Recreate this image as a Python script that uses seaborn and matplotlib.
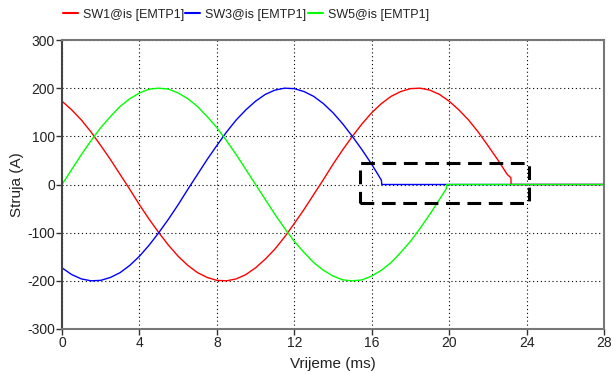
import matplotlib
matplotlib.use("Agg")
import matplotlib.pyplot as plt
from matplotlib.patches import Rectangle
from matplotlib.lines import Line2D
import seaborn as sns
import pandas as pd

# ---- data ----
t_sw1 = [0, 0.5, 1, 1.5, 2, 2.5, 3, 3.5, 4, 4.5, 5, 5.5, 6, 6.5, 7, 7.5, 8, 8.5, 9, 9.5,
         10, 10.5, 11, 11.5, 12, 12.5, 13, 13.5, 14, 14.5, 15, 15.5, 16, 16.5, 17, 17.5,
         18, 18.5, 19, 19.5, 20, 20.5, 21, 21.5, 22, 22.5, 23, 23.19, 23.2, 28]
i_sw1 = [173, 155, 134, 109, 81, 52, 21, -10, -42, -72, -100, -126, -149, -168, -183, -193,
         -199, -200, -196, -187, -173, -155, -134, -109, -81, -52, -21, 10, 42, 72, 100, 126,
         149, 168, 183, 193, 199, 200, 196, 187, 173, 155, 134, 109, 81, 52, 21, 14, 0, 0]

t_sw3 = [0, 0.5, 1, 1.5, 2, 2.5, 3, 3.5, 4, 4.5, 5, 5.5, 6, 6.5, 7, 7.5, 8, 8.5, 9, 9.5,
         10, 10.5, 11, 11.5, 12, 12.5, 13, 13.5, 14, 14.5, 15, 15.5, 16, 16.5, 16.52, 28]
i_sw3 = [-173, -187, -196, -200, -199, -193, -183, -168, -149, -126, -100, -72, -42, -10,
         21, 52, 81, 109, 134, 155, 173, 187, 196, 200, 199, 193, 183, 168, 149, 126, 100,
         72, 42, 9, 0, 0]

t_sw5 = [0, 0.5, 1, 1.5, 2, 2.5, 3, 3.5, 4, 4.5, 5, 5.5, 6, 6.5, 7, 7.5, 8, 8.5, 9, 9.5,
         10, 10.5, 11, 11.5, 12, 12.5, 13, 13.5, 14, 14.5, 15, 15.5, 16, 16.5, 17, 17.5,
         18, 18.5, 19, 19.5, 19.85, 19.87, 28]
i_sw5 = [0, 31, 62, 91, 118, 141, 162, 178, 190, 198, 200, 198, 190, 178, 162, 141, 118,
         91, 62, 31, 0, -31, -62, -91, -118, -141, -162, -178, -190, -198, -200, -198, -190,
         -178, -162, -141, -118, -91, -62, -31, -9, 0, 0]

series_names = ["SW1@is [EMTP1]", "SW3@is [EMTP1]", "SW5@is [EMTP1]"]
series_colors = ["#ff0000", "#0000ff", "#00ff00"]

x_ticks = [0, 4, 8, 12, 16, 20, 24, 28]
y_ticks = [-300, -200, -100, 0, 100, 200, 300]
x_label = "Vrijeme (ms)"
y_label = "Struja (A)"

# highlighted region (ms, A)
box_t0, box_t1 = 15.4, 24.1
box_i0, box_i1 = -38, 45

# ---- build table ----
frames = []
for name, t, i in zip(series_names, [t_sw1, t_sw3, t_sw5], [i_sw1, i_sw3, i_sw5]):
    frames.append(pd.DataFrame({"t": t, "i": i, "series": name}))
df = pd.concat(frames, ignore_index=True)

sns.set_style("white")
plt.rcParams["font.family"] = ["Liberation Sans", "DejaVu Sans"]

fig = plt.figure(figsize=(6.13, 3.74), dpi=100)
ax = fig.add_axes([62 / 613, 1 - 329 / 374, 542 / 613, 289 / 374])

sns.lineplot(data=df, x="t", y="i", hue="series", hue_order=series_names,
             palette=dict(zip(series_names, series_colors)), estimator=None,
             sort=False, linewidth=1.0, ax=ax, legend=False)

ax.set_xlim(0, 28)
ax.set_ylim(-300, 300)
ax.set_xticks(x_ticks)
ax.set_yticks(y_ticks)
ax.set_xticklabels([str(v) for v in x_ticks], fontsize=10, color="#222222")
ax.set_yticklabels([str(v) for v in y_ticks], fontsize=10, color="#222222")
ax.set_xlabel(x_label, fontsize=11, color="#222222", labelpad=5)
ax.set_ylabel(y_label, fontsize=11, color="#222222", labelpad=2)

ax.grid(True, color="black", linestyle=(0, (1, 2.5)), linewidth=0.8)
ax.set_axisbelow(True)
ax.tick_params(axis="both", which="major", direction="out", length=4, width=1,
               color="#333333", pad=1, bottom=True, left=True)

for side in ["top", "right", "bottom"]:
    ax.spines[side].set_color("#777777")
    ax.spines[side].set_linewidth(1.5)
ax.spines["left"].set_color("#444444")
ax.spines["left"].set_linewidth(1.5)

ax.add_patch(Rectangle((box_t0, box_i0), box_t1 - box_t0, box_i1 - box_i0,
                       fill=False, edgecolor="black", linewidth=2.2,
                       linestyle=(0, (4.5, 2.5)), zorder=5))

handles = [Line2D([], [], color=c, lw=1.5) for c in series_colors]
leg = fig.legend(handles, series_names, loc="upper left",
                 bbox_to_anchor=(54 / 613, 1.0), ncol=3, frameon=False,
                 fontsize=9, handlelength=1.2, handletextpad=0.4,
                 columnspacing=0.1, borderaxespad=0.3)
for txt in leg.get_texts():
    txt.set_color("#222222")

fig.savefig("out.png", dpi=100)
